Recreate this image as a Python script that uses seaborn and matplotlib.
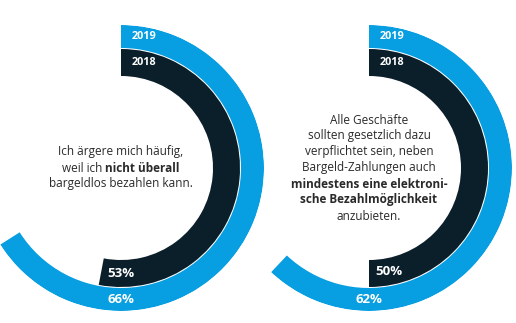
import numpy as np
import matplotlib
matplotlib.use("Agg")
import matplotlib.pyplot as plt
import seaborn as sns
import pandas as pd
from matplotlib.transforms import IdentityTransform

# ---------------- data ----------------
years = ["2019", "2018"]
chart1_values = [66, 53]
chart2_values = [62, 50]
chart1_lines = [
    [("Ich ärgere mich häufig,", "normal")],
    [("weil ich", "normal"), ("nicht überall", "bold")],
    [("bargeldlos bezahlen kann.", "normal")],
]
chart2_lines = [
    [("Alle Geschäfte", "normal")],
    [("sollten gesetzlich dazu", "normal")],
    [("verpflichtet sein, neben", "normal")],
    [("Bargeld-Zahlungen auch", "normal")],
    [("mindestens eine elektroni-", "bold")],
    [("sche Bezahlmöglichkeit", "bold")],
    [("anzubieten.", "normal")],
]

# ---------------- style ----------------
sns.set_theme(style="white")
plt.rcParams["font.family"] = ["Open Sans", "DejaVu Sans"]
palette = dict(zip(years, sns.color_palette(["#079ee2", "#0b1f2b"])))

W, H = 516, 323
fig = plt.figure(figsize=(W / 100, H / 100), dpi=100)
fig.patch.set_facecolor("white")

R_MAX = 143
rings = {"2019": (120, 143), "2018": (92, 119)}
centers = [(121, 168), (369, 168)]
TEXT_FS = 8.5
LINE_H = 16
txt_color = "#2a2a2a"

renderer = fig.canvas.get_renderer()


def text_width(s, weight):
    t = fig.text(0, 0, s, fontsize=TEXT_FS, fontweight=weight, transform=IdentityTransform())
    w = t.get_window_extent(renderer).width
    t.remove()
    return w


def draw_lines(cx, cy, lines):
    n = len(lines)
    space = text_width("a a", "normal") - text_width("aa", "normal")
    for i, segs in enumerate(lines):
        y_img = cy + (i - (n - 1) / 2) * LINE_H
        widths = [text_width(s, w) for s, w in segs]
        total = sum(widths) + space * (len(segs) - 1)
        x = cx - total / 2
        for (s, w), wd in zip(segs, widths):
            fig.text(x, H - y_img, s, fontsize=TEXT_FS, fontweight=w, color=txt_color,
                     transform=IdentityTransform(), ha="left", va="center")
            x += wd + space


for (cx, cy), vals, lines in zip(centers, [chart1_values, chart2_values], [chart1_lines, chart2_lines]):
    ax = fig.add_axes([(cx - R_MAX) / W, (H - cy - R_MAX) / H, 2 * R_MAX / W, 2 * R_MAX / H],
                      projection="polar")
    ax.set_theta_zero_location("N")
    ax.set_theta_direction(-1)
    ax.set_ylim(0, R_MAX)
    ax.set_axis_off()
    ax.patch.set_alpha(0)
    df = pd.DataFrame({"year": years, "value": vals})
    for yr, v in zip(df["year"], df["value"]):
        r0, r1 = rings[yr]
        rm = (r0 + r1) / 2
        ax.barh(y=r0, width=np.deg2rad(v / 100 * 360), height=r1 - r0, left=0, align="edge",
                color=palette[yr], linewidth=0)
        ax.annotate(yr, xy=(0, rm), xytext=(11, 0), textcoords="offset pixels",
                    ha="left", va="center", color="white", fontsize=7.8, fontweight="bold")
        if yr == "2019":
            th = np.pi
        else:
            th = np.deg2rad(v / 100 * 360 - 11)
        ax.text(th, rm, f"{v}%", ha="center", va="center", color="white",
                fontsize=9.5, fontweight="bold")
    draw_lines(cx, cy, lines)

fig.savefig("out.png", dpi=100)
